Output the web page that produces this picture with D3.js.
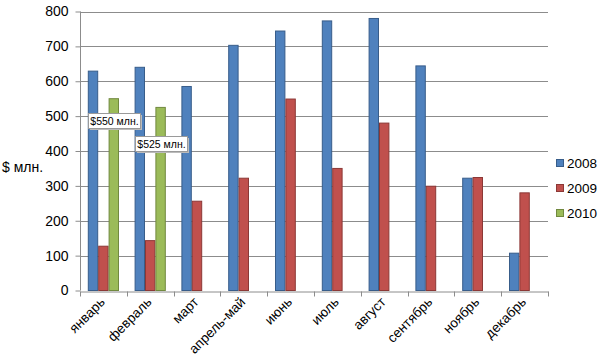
<!DOCTYPE html>
<html><head><meta charset="utf-8">
<script src="https://cdn.jsdelivr.net/npm/d3@7"></script>
<style>body{margin:0;background:#fff}svg{display:block}text{font-family:"Liberation Sans",Arial,sans-serif}</style>
</head><body><svg id="c" width="600" height="356"></svg>
<script>
const categories = ["январь","февраль","март","апрель-май","июнь","июль","август","сентябрь","ноябрь","декабрь"];
const seriesNames = ["2008","2009","2010"];
const values2008 = [629,640,585,703,744,773,780,644,322,107];
const values2009 = [127,143,256,322,549,350,480,299,324,280];
const values2010 = [550,525,null,null,null,null,null,null,null,null];
const yTicks = [0,100,200,300,400,500,600,700,800];
const annotations = [{cat:"январь", text:"$550 млн."},{cat:"февраль", text:"$525 млн."}];
const colors = ["#4F81BD","#C0504D","#9BBB59"];
const strokes = ["#385D8A","#8C3836","#71893F"];

(function(){
const svg = d3.select("#c");
const pL = 80, pR = 548, pT = 11.5, pB = 290.5;
const x = d3.scaleBand().domain(categories).range([pL,pR]).paddingInner(0).paddingOuter(0);
const y = d3.scaleLinear().domain([0,800]).range([pB,pT]);
const bw = x.bandwidth()/4.5;
const xs = d3.scaleBand().domain(seriesNames).range([bw*0.75, bw*3.75]);

// gridlines
svg.append("g").selectAll("line").data(yTicks.filter(d=>d>0)).join("line")
  .attr("x1",pL).attr("x2",pR).attr("y1",d=>Math.round(y(d))+0.5).attr("y2",d=>Math.round(y(d))+0.5)
  .attr("stroke","#8c8c8c").attr("stroke-width",1);

// bars
const all = [values2008, values2009, values2010];
all.forEach((vals,si)=>{
  svg.append("g").selectAll("rect").data(categories.map((c,i)=>({c,v:vals[i]})).filter(d=>d.v!=null)).join("rect")
    .attr("x",d=>x(d.c)+xs(seriesNames[si])+0.5)
    .attr("y",d=>y(d.v))
    .attr("width",xs.bandwidth()-1)
    .attr("height",d=>y(0)-y(d.v))
    .attr("fill",colors[si]).attr("stroke",strokes[si]).attr("stroke-width",1);
});

// y axis
const ya = svg.append("g").attr("transform",`translate(${pL+0.5},0)`)
  .call(d3.axisLeft(y).tickValues(yTicks).tickSize(5).tickPadding(7));
ya.select(".domain").attr("stroke","#8c8c8c").attr("d",`M0,${pT}V${pB}`);
ya.selectAll(".tick line").attr("stroke","#8c8c8c");
ya.selectAll(".tick text").attr("font-size",14).attr("fill","#000").attr("font-family","Liberation Sans, Arial");

// x axis
const xa = svg.append("g").attr("transform",`translate(0,${Math.round(pB)+0.5})`)
  .call(d3.axisBottom(x).tickSize(0));
xa.select(".domain").attr("stroke","#8c8c8c");
xa.selectAll(".tick text").remove();
const bounds = d3.range(categories.length+1).map(i=>pL+i*x.step());
xa.selectAll("line.sep").data(bounds).join("line").attr("class","sep")
  .attr("x1",d=>Math.round(d)+0.5).attr("x2",d=>Math.round(d)+0.5).attr("y1",0).attr("y2",5).attr("stroke","#8c8c8c");
svg.append("g").selectAll("text").data(categories).join("text")
  .attr("transform",d=>`translate(${x(d)+x.bandwidth()/2-1},${pB+9}) rotate(-45)`)
  .attr("text-anchor","end").attr("dy","0.35em").attr("font-size",13.5).attr("fill","#000").text(d=>d);

// y title
svg.append("text").attr("x",2).attr("y",172).attr("font-size",14).attr("fill","#000").text("$ млн.");

// annotations
annotations.forEach((a,i)=>{
  const v = values2010[categories.indexOf(a.cat)];
  const cx = x(a.cat) + xs("2010") + xs.bandwidth()/2;
  const w = 52, h = 15;
  const bx = Math.round(cx - w/2)+0.5, by = Math.round(i===0 ? y(v)+14 : y(v)+29)+0.5;
  const g = svg.append("g");
  g.append("rect").attr("x",bx+1.5).attr("y",by+1.5).attr("width",w).attr("height",h).attr("fill","#bbb");
  g.append("rect").attr("x",bx).attr("y",by).attr("width",w).attr("height",h).attr("fill","#fff").attr("stroke","#9a9a9a");
  g.append("text").attr("x",bx+w/2).attr("y",by+h/2).attr("dy","0.35em").attr("text-anchor","middle")
    .attr("font-size",10.5).attr("fill","#000").text(a.text);
});

// legend
const lg = svg.append("g");
seriesNames.forEach((s,i)=>{
  const ly = 163 + i*25;
  lg.append("rect").attr("x",556.5).attr("y",ly-3.5).attr("width",7).attr("height",7).attr("fill",colors[i]).attr("stroke",strokes[i]);
  lg.append("text").attr("x",567).attr("y",ly).attr("dy","0.35em").attr("font-size",13.5).attr("fill","#000").text(s);
});
})();
</script></body></html>
